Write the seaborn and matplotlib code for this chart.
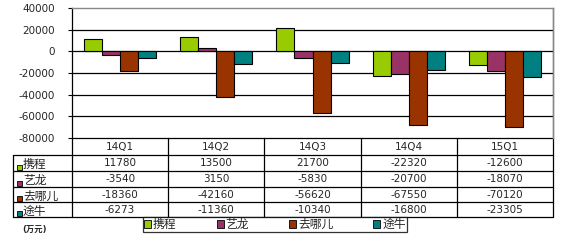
import matplotlib
matplotlib.use("Agg")
import matplotlib.pyplot as plt
from matplotlib.patches import Rectangle
import seaborn as sns
import pandas as pd

# data
quarters = ["14Q1", "14Q2", "14Q3", "14Q4", "15Q1"]
companies = ["携程", "艺龙", "去哪儿", "途牛"]
ctrip = [11780, 13500, 21700, -22320, -12600]
elong = [-3540, 3150, -5830, -20700, -18070]
qunar = [-18360, -42160, -56620, -67550, -70120]
tuniu = [-6273, -11360, -10340, -16800, -23305]
yticks = [40000, 20000, 0, -20000, -40000, -60000, -80000]
unit_label = "(万元)"

colors = ["#99CC00", "#993366", "#993300", "#008080"]

series = [ctrip, elong, qunar, tuniu]
df = pd.DataFrame([
    {"quarter": q, "company": c, "value": v}
    for c, vals in zip(companies, series)
    for q, v in zip(quarters, vals)
])

sns.set_style("white")
plt.rcParams["font.family"] = ["DejaVu Sans", "Noto Sans CJK SC"]

W, H = 568, 246
fig = plt.figure(figsize=(W / 100, H / 100), dpi=100)

# overlay axes in pixel coordinates for the data table
tab = fig.add_axes([0, 0, 1, 1], zorder=0)
tab.set_xlim(0, W)
tab.set_ylim(H, 0)
tab.axis("off")

x0, x1 = 72, 553
top, bot = 8, 138
ax = fig.add_axes([x0 / W, 1 - bot / H, (x1 - x0) / W, (bot - top) / H], zorder=1)
ax.patch.set_alpha(0)

ax.hlines(yticks[1:-1], -0.5, 4.5, color="black", lw=0.9, zorder=0)
sns.barplot(data=df, x="quarter", y="value", hue="company", palette=colors,
            saturation=1, width=0.75, edgecolor="black", linewidth=0.8,
            legend=False, ax=ax, zorder=2)
ax.set_xlim(-0.5, 4.5)
ax.set_ylim(yticks[-1], yticks[0])
ax.set_yticks(yticks)
ax.set_yticklabels([str(t) for t in yticks], fontsize=7.5)
ax.tick_params(axis="y", length=3, width=0.8, color="black", pad=9, direction="out", left=True)
ax.set_xticks([])
ax.set_xlabel("")
ax.set_ylabel("")
for s in ["top", "right"]:
    ax.spines[s].set_color("#888888")
    ax.spines[s].set_linewidth(1)
ax.spines["left"].set_color("black")
ax.spines["left"].set_linewidth(0.9)
ax.spines["bottom"].set_visible(False)

# table
lab_x = 13
row_h = [138, 155, 171, 187, 202, 217]
colw = (x1 - x0) / len(quarters)
lc = dict(color="black", lw=0.9)
tab.plot([x0, x1], [row_h[0], row_h[0]], **lc)
for y in row_h[1:]:
    tab.plot([lab_x, x1], [y, y], **lc)
tab.plot([lab_x, lab_x], [row_h[1], row_h[-1]], **lc)
for i in range(len(quarters) + 1):
    tab.plot([x0 + i * colw] * 2, [row_h[0], row_h[-1]], **lc)
tab.plot([x1, x1], [top, row_h[0]], color="#888888", lw=1)

for i, q in enumerate(quarters):
    cx = x0 + (i + 0.5) * colw
    tab.text(cx, (row_h[0] + row_h[1]) / 2 + 0.5, q, ha="center", va="center", fontsize=7.5)
for r, (c, vals, col) in enumerate(zip(companies, series, colors)):
    yc = (row_h[r + 1] + row_h[r + 2]) / 2
    tab.add_patch(Rectangle((17, row_h[r + 2] - 6), 5, 5, facecolor=col,
                            edgecolor="black", lw=0.6))
    tab.text(23, yc + 1.5, c, ha="left", va="center", fontsize=8.5)
    for i, v in enumerate(vals):
        cx = x0 + (i + 0.5) * colw
        tab.text(cx, yc + 0.5, str(v), ha="center", va="center", fontsize=7.5)

tab.text(22, 229, unit_label, ha="left", va="center", fontsize=6, fontweight="bold")

# legend
handles = [Rectangle((0, 0), 1, 1, facecolor=col, edgecolor="black", lw=0.6) for col in colors]
leg = fig.legend(handles, companies, loc="upper left",
                 bbox_to_anchor=(143 / W, 1 - 217 / H), ncol=4, frameon=True,
                 fontsize=8.5, handlelength=0.6, handleheight=0.6, handletextpad=0.15,
                 columnspacing=3.4, borderpad=0.1, borderaxespad=0, fancybox=False)
leg.get_frame().set_edgecolor("black")
leg.get_frame().set_linewidth(0.9)

fig.savefig("out.png", dpi=100, facecolor="white")
